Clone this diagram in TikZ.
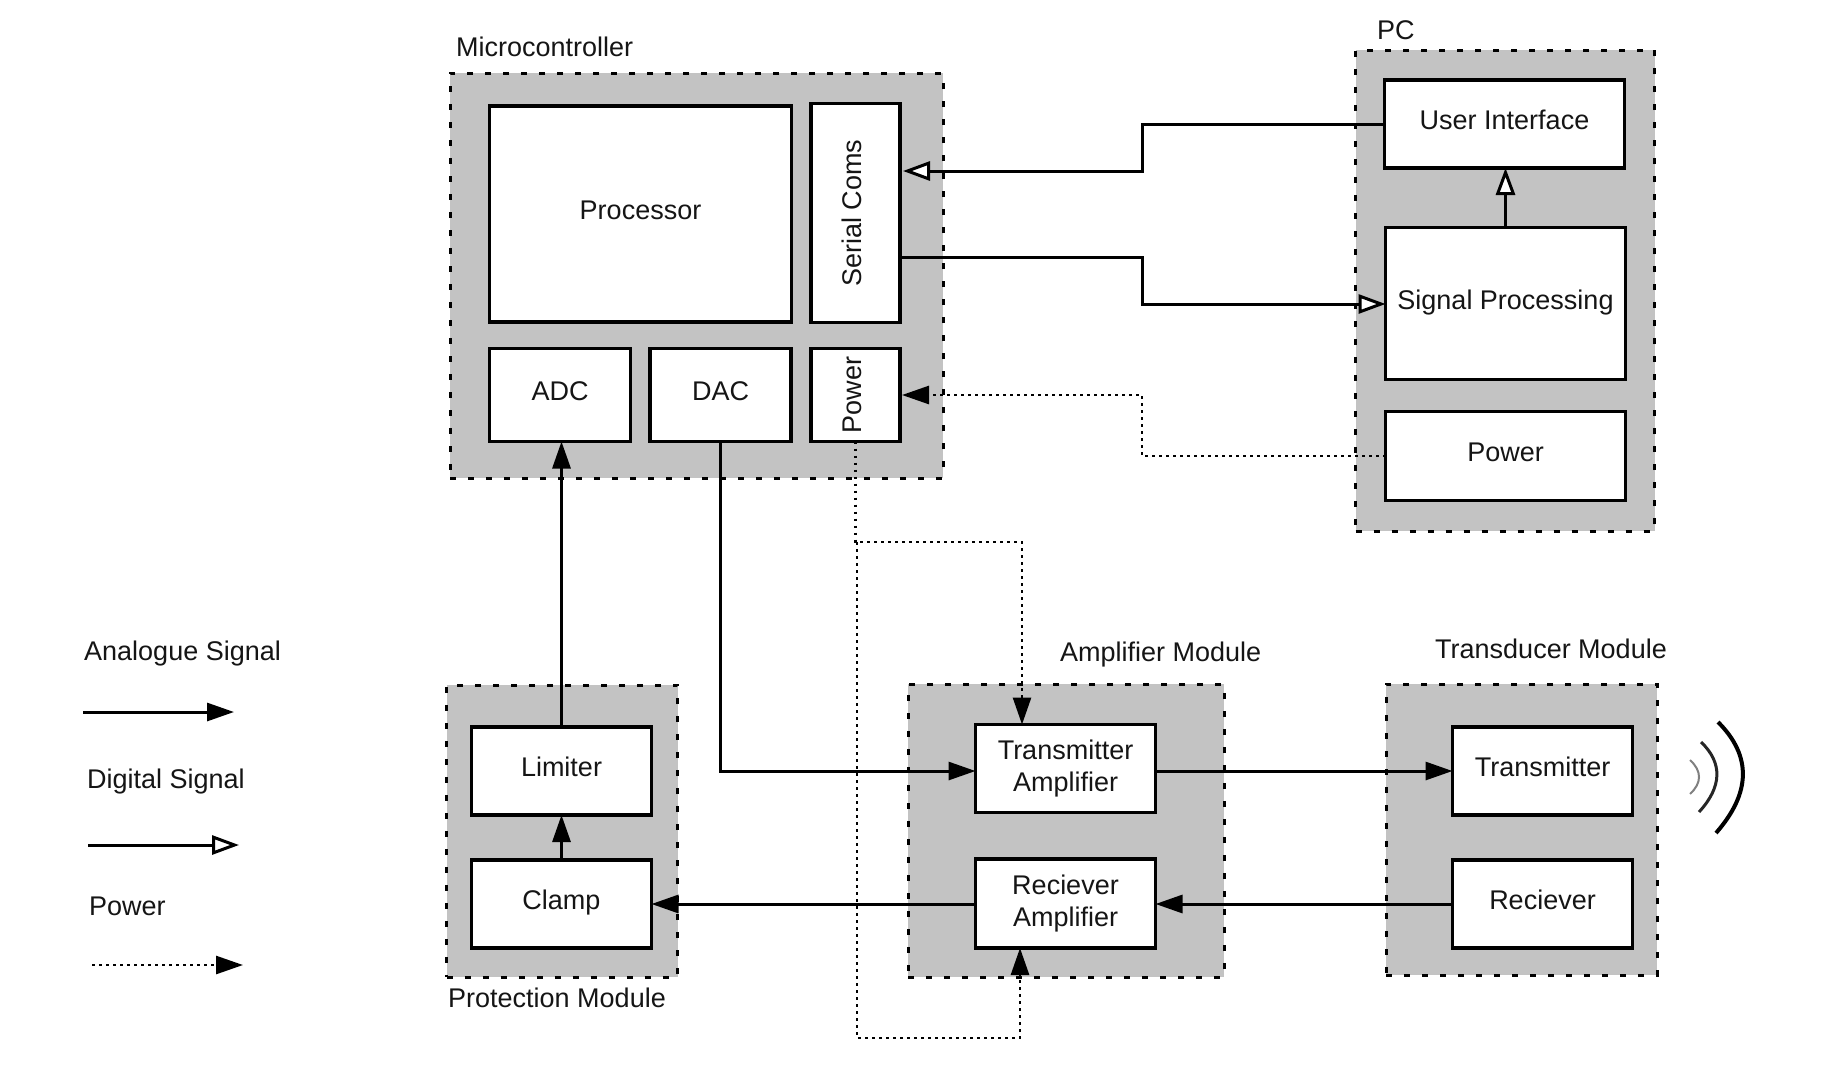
\documentclass[tikz,border=0pt]{standalone}
\usepackage{fontspec}
\usepackage{graphicx}
\setmainfont{Liberation Sans}
\usetikzlibrary{arrows.meta}
\definecolor{grp}{HTML}{C3C3C3}
\definecolor{ink}{HTML}{151515}
\tikzset{
  base/.style={font=\fontsize{27}{32.5}\selectfont,text=ink},
  group/.style={draw=black,fill=grp,line width=3pt,dash pattern=on 6pt off 12pt,inner sep=0pt,outer sep=0pt},
  box/.style={base,draw=black,fill=white,line width=3.5pt,inner sep=0pt,outer sep=0pt,align=center,text height=19pt,text depth=8pt},
  rbox/.style={base,draw=black,fill=white,line width=3.5pt,inner sep=0pt,outer sep=0pt},
  twoline/.style={base,draw=black,fill=white,line width=3.5pt,inner sep=0pt,outer sep=0pt,align=center},
  lab/.style={base,anchor=west,inner sep=0pt,text height=19pt,text depth=6pt},
  analog/.style={draw=black,line width=3pt,-{Triangle[length=27pt,width=18pt]}},
  digital/.style={draw=black,line width=3pt,-{Triangle[open,length=27pt,width=19pt,fill=white]}},
  power/.style={draw=black,line width=2.7pt,dash pattern=on 2.7pt off 4.3pt,-{Triangle[length=27pt,width=18pt]}},
}
\begin{document}
\begin{tikzpicture}[x=1pt,y=-1pt]
\useasboundingbox (0,0) rectangle (1822,1074);
% groups
\node[group,minimum width=493pt,minimum height=405pt] (micro) at (696.5,275.5) {};
\node[group,minimum width=299pt,minimum height=481pt] (pc) at (1505,290.5) {};
\node[group,minimum width=231pt,minimum height=292pt] (prot) at (562,831) {};
\node[group,minimum width=316pt,minimum height=293pt] (amp) at (1066,830.5) {};
\node[group,minimum width=271pt,minimum height=291pt] (td) at (1521.5,829.5) {};
% group labels
\node[lab] (lmicro) at (456,50) {Microcontroller};
\node[lab] (lpc) at (1377,33) {PC};
\node[lab] (lprot) at (448,1001) {Protection Module};
\node[lab] (lamp) at (1060,654.5) {Amplifier Module};
\node[lab] (ltd) at (1435,652) {Transducer Module};
% boxes
\node[box,minimum width=302pt,minimum height=216pt] (proc) at (640.5,214) {Processor};
\node[rbox,minimum width=89pt,minimum height=219pt] (serial) at (855.5,213) {\rotatebox{90}{\rule[-7pt]{0pt}{7pt}Serial Coms}};
\node[rbox,minimum width=89pt,minimum height=93pt] (mpower) at (855.5,395) {\rotatebox{90}{\rule[-7pt]{0pt}{7pt}Power}};
\node[box,minimum width=141pt,minimum height=93pt] (adc) at (560,395) {ADC};
\node[box,minimum width=141pt,minimum height=93pt] (dac) at (720.5,395) {DAC};
\node[box,minimum width=240pt,minimum height=88pt] (ui) at (1504.5,124) {User Interface};
\node[box,minimum width=240pt,minimum height=152pt] (sig) at (1505.5,303.5) {Signal Processing};
\node[box,minimum width=240pt,minimum height=89pt] (ppower) at (1505.5,456) {Power};
\node[box,minimum width=180pt,minimum height=88pt] (lim) at (561.5,771) {Limiter};
\node[box,minimum width=180pt,minimum height=88pt] (clamp) at (561.5,904) {Clamp};
\node[twoline,minimum width=180pt,minimum height=88pt] (tx) at (1065.5,768.5) {Transmitter\\Amplifier};
\node[twoline,minimum width=180pt,minimum height=89pt] (rx) at (1065.5,903.5) {Reciever\\Amplifier};
\node[box,minimum width=180pt,minimum height=88pt] (trans) at (1542.5,771) {Transmitter};
\node[box,minimum width=180pt,minimum height=88pt] (rec) at (1542.5,904) {Reciever};
% bend coordinates
\coordinate (b1) at (1142,171);
\coordinate (b2) at (1142,257);
\coordinate (b3) at (1142,304);
\coordinate (b4) at (1142,395);
\coordinate (b5) at (857,542);
\coordinate (b6) at (1022,542);
\coordinate (b7) at (857,1038);
\coordinate (b8) at (1020,1038);
% digital
\draw[digital,shorten >=3pt] (ui.west) -| (b1) -- (serial.east |- b1);
\draw[digital] (serial.east |- b2) -- (b2) |- (sig.west |- b3);
\draw[digital] (sig.north) -- (sig.north |- ui.south);
% power
\draw[power,shorten >=2pt] (ppower.west) -| (b4) -- (mpower.east);
\draw[power] (mpower.south) |- (b6) -- (b6 |- tx.north);
\draw[power] (b5) -- (b7) -- (b8) -- (b8 |- rx.south);
% analogue
\draw[analog] (lim.north) -- (lim.north |- adc.south);
\draw[analog] (clamp.north) -- (lim.south);
\draw[analog] (dac.south) |- (tx.west |- trans.west);
\draw[analog] (tx.east |- trans.west) -- (trans.west);
\draw[analog] (rec.west) -- (rec.west -| rx.east);
\draw[analog] (rec.west -| rx.west) -- (rec.west -| clamp.east);
% waves
\coordinate (w1a) at (1718,722); \coordinate (w1c) at (1752,756); \coordinate (w1d) at (1751,793); \coordinate (w1b) at (1716,833);
\coordinate (w2a) at (1701,742); \coordinate (w2c) at (1723,763); \coordinate (w2d) at (1722,787); \coordinate (w2b) at (1699,812);
\coordinate (w3a) at (1690,760); \coordinate (w3c) at (1702,771); \coordinate (w3d) at (1702,783); \coordinate (w3b) at (1690,794);
\draw[line width=4pt,black] (w1a) .. controls (w1c) and (w1d) .. (w1b);
\draw[line width=3pt,black!85] (w2a) .. controls (w2c) and (w2d) .. (w2b);
\draw[line width=2pt,black!50] (w3a) .. controls (w3c) and (w3d) .. (w3b);
% legend
\node[lab] (la) at (84,654) {Analogue Signal};
\node[lab] (ld) at (87,782) {Digital Signal};
\node[lab] (lp) at (89,909) {Power};
\coordinate (a1) at (83,712); \coordinate (a2) at (234,712);
\coordinate (d1) at (88,845); \coordinate (d2) at (239,845);
\coordinate (p1) at (92,965); \coordinate (p2) at (243,965);
\draw[analog] (a1) -- (a2);
\draw[digital] (d1) -- (d2);
\draw[power] (p1) -- (p2);
\end{tikzpicture}
\end{document}
